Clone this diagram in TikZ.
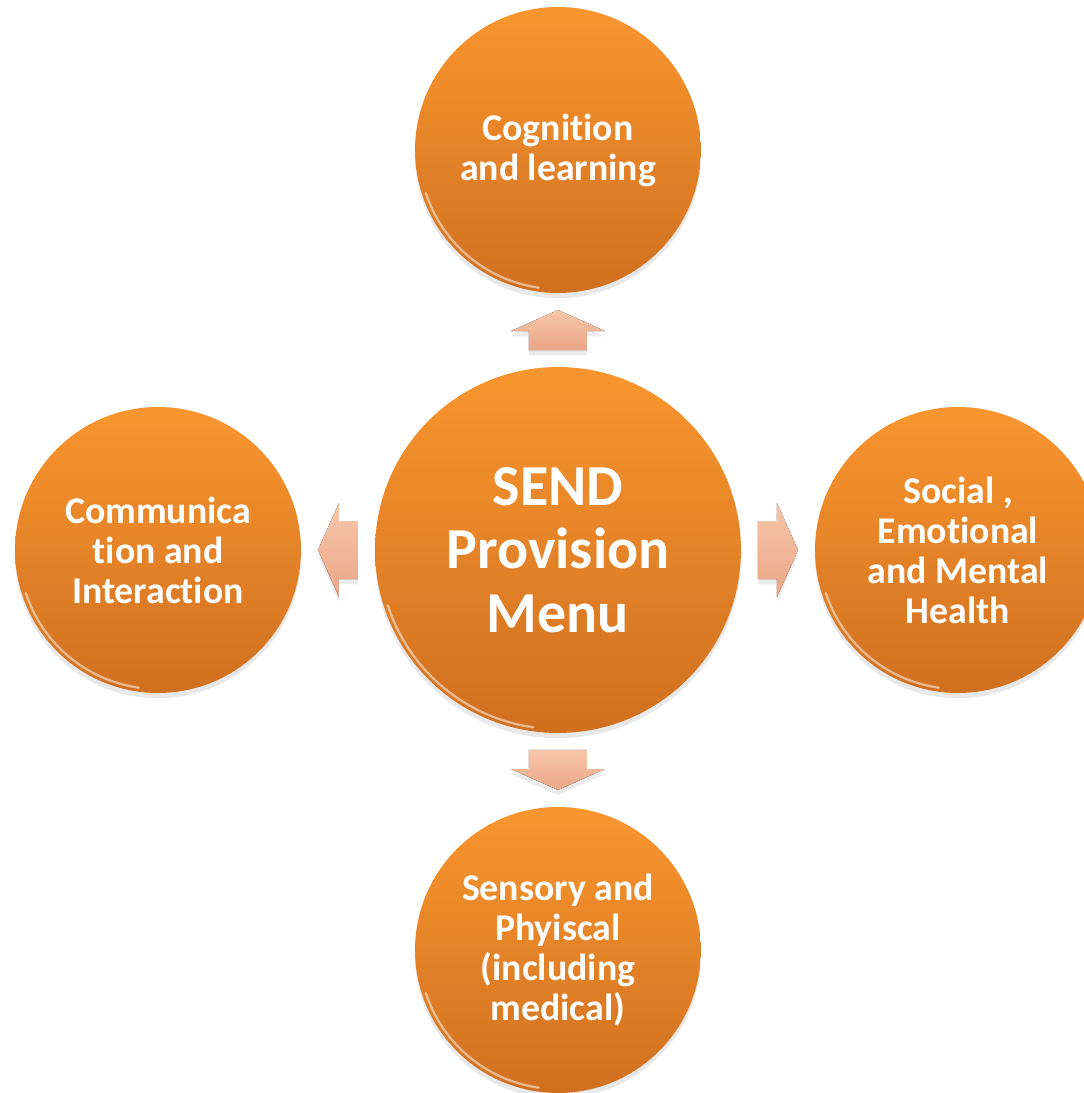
\documentclass[tikz,border=0pt]{standalone}
\usepackage{fontspec}
\setmainfont{Carlito}[RawFeature=-liga]
\usetikzlibrary{calc,shadows}
\definecolor{orangetop}{HTML}{F9962F}
\definecolor{orangebot}{HTML}{D07020}
\definecolor{peachtop}{HTML}{F7C6AA}
\definecolor{peachbot}{HTML}{EBA687}
\def\centerarc[#1](#2)(#3:#4:#5){\draw[#1] ($(#2)+({#5*cos(#3)},{#5*sin(#3)})$) arc (#3:#4:#5);}
\def\blockarrow[#1](#2)(#3){\fill[#1,shift={(#2)},rotate=#3] (-20,-29) -- (-1,-29) -- (-1,-47) -- (20,0) -- (-1,47) -- (-1,29) -- (-20,29) -- cycle;}

\begin{document}
\begin{tikzpicture}[x=0.02cm, y=0.02cm,
		bubble/.style={circle, minimum size=5.72cm, inner sep=0pt, align=center,
			top color=orangetop, bottom color=orangebot, text=white,
			font=\fontsize{21.5}{22.8}\selectfont\bfseries,
			drop shadow={opacity=.18, shadow xshift=0pt, shadow yshift=-3pt}},
		bigbubble/.style={bubble, minimum size=7.32cm,
			font=\fontsize{33}{36.3}\selectfont\bfseries},
		shine/.style={white, opacity=.5, line width=1.3pt, line cap=round},
		arrowfill/.style={top color=peachtop, bottom color=peachbot,
			drop shadow={opacity=.15, shadow xshift=0pt, shadow yshift=-3pt}}]
			%%%%% START %%%%%
			
			\useasboundingbox (-558, -543) rectangle (526, 550);
			\clip (-558, -543) rectangle (526, 550);
			
			\node[bigbubble] (send) at (0, 0) {SEND\\Provision\\Menu};
			
			\node[bubble] (cog) at (0, 400) {Cognition\\and learning};
			\node[bubble] (comm) at (-400, 0) {Communica\\tion and\\Interaction};
			\node[bubble] (semh) at (400, 0) {Social ,\\Emotional\\and Mental\\Health};
			\node[bubble] (sens) at (0, -400) {Sensory and\\Phyiscal\\(including\\medical)};
			
			\centerarc[shine](send)(198:262:179);
			\centerarc[shine](cog)(198:262:139);
			\centerarc[shine](comm)(198:262:139);
			\centerarc[shine](semh)(198:262:139);
			\centerarc[shine](sens)(198:262:139);
			
			\coordinate (up) at ($(send.north)!.5!(cog.south)$);
			\coordinate (lt) at ($(send.west)!.5!(comm.east)$);
			\coordinate (rt) at ($(send.east)!.5!(semh.west)$);
			\coordinate (dn) at ($(send.south)!.5!(sens.north)$);
			
			\blockarrow[arrowfill](up)(90);
			\blockarrow[arrowfill](lt)(180);
			\blockarrow[arrowfill](rt)(0);
			\blockarrow[arrowfill](dn)(270);
			
			%%%%% END %%%%%
\end{tikzpicture}
\end{document}
